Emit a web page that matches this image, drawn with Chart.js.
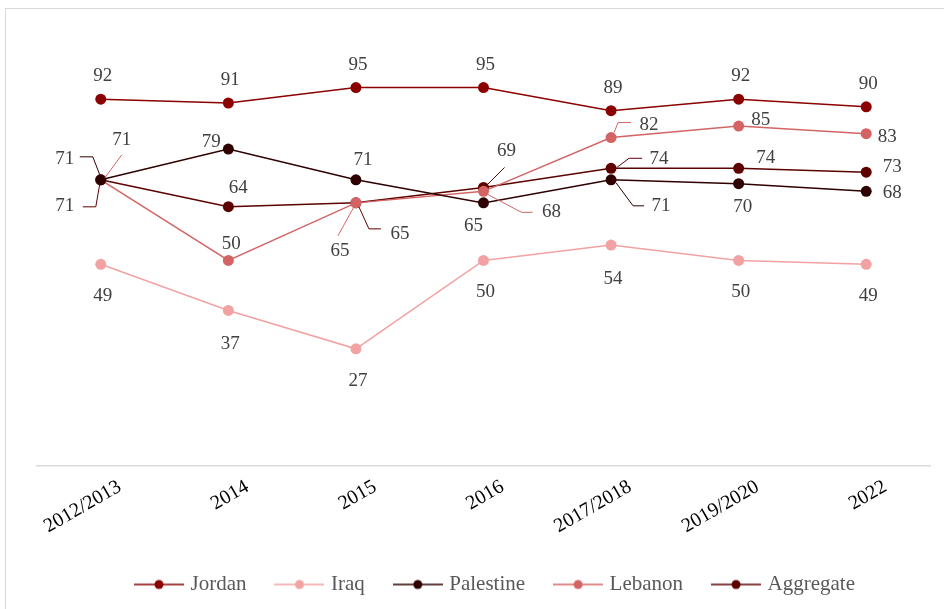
<!DOCTYPE html>
<html>
<head>
<meta charset="utf-8">
<script src="https://cdn.jsdelivr.net/npm/chart.js@4"></script>
<style>
  html, body { margin: 0; padding: 0; background: #fff; }
  #wrap { position: relative; width: 944px; height: 609px; overflow: hidden; }
  #frame { position: absolute; left: 5px; top: 8px; width: 960px; height: 620px; border: 1px solid #d9d9d9; }
  #c { position: absolute; left: 0; top: 0; }
</style>
</head>
<body>
<div id="wrap">
  <div id="frame"></div>
  <canvas id="c" width="944" height="609"></canvas>
</div>
<script>
// data
var years = ['2012/2013', '2014', '2015', '2016', '2017/2018', '2019/2020', '2022'];
var jordan    = [92, 91, 95, 95, 89, 92, 90];
var iraq      = [49, 37, 27, 50, 54, 50, 49];
var palestine = [71, 79, 71, 65, 71, 70, 68];
var lebanon   = [71, 50, 65, 68, 82, 85, 83];
var aggregate = [71, 64, 65, 69, 74, 74, 73];

var colors = ['#8b0000', '#f2a2a2', '#2e0000', '#d46464', '#5c0000'];
var names = ['Jordan', 'Iraq', 'Palestine', 'Lebanon', 'Aggregate'];
var serif = '"Liberation Serif", "Times New Roman", serif';

// label placement: [dx, dy] of text centre from the point, optional leader line
var labelPos = [
  [[2,-23],[2,-23],[2,-23],[2,-23],[2,-23],[2,-23],[2,-23]],
  [[2,32],[2,34],[2,32],[2,32],[2,34],[2,32],[2,32]],
  [[-36,-21,[[-21,-23],[-8,-23],[-1,-5]]], [-17,-7], [7,-20], [-10,23],
   [50,26,[[5,3],[22,26],[33,26]]], [4,23], [26,2]],
  [[21,-40,[[4,-2],[21,-25]]], [3,-16], [-16,48,[[-2,4],[-18,33]]],
   [68,21,[[4,3],[38,21],[49,21]]], [38,-13,[[3,-5],[7,-15],[20,-15]]], [22,-6], [21,3]],
  [[-36,26,[[-18,27],[-5,27],[-1,4]]], [10,-19], [44,31,[[3,4],[13,26],[25,26]]],
   [23,-36,[[4,-3],[21,-20]]], [48,-9,[[6,-1],[18,-10],[31,-10]]], [27,-10], [26,-5]]
];

function makeMarker(color) {
  var cv = document.createElement('canvas');
  cv.width = 50; cv.height = 12;
  var g = cv.getContext('2d');
  g.strokeStyle = color; g.lineWidth = 1.5;
  g.beginPath(); g.moveTo(0, 6); g.lineTo(50, 6); g.stroke();
  g.fillStyle = color;
  g.beginPath(); g.arc(25, 6, 4.5, 0, Math.PI * 2); g.fill();
  return cv;
}
var markers = colors.map(makeMarker);

var dataLabels = {
  id: 'dataLabels',
  beforeDraw: function (chart) {
    // legend sits a little right of centre in the original
    var lg = chart.legend;
    lg.left = 37 + 13;
    lg.right = 930 + 13;
  },
  afterDatasetsDraw: function (chart) {
    var ctx = chart.ctx;
    ctx.save();
    ctx.font = '19px ' + serif;
    ctx.textAlign = 'center';
    ctx.textBaseline = 'middle';
    chart.data.datasets.forEach(function (ds, di) {
      var meta = chart.getDatasetMeta(di);
      meta.data.forEach(function (pt, i) {
        var p = labelPos[di][i];
        if (p[2]) {
          ctx.strokeStyle = colors[di];
          ctx.lineWidth = 1;
          ctx.beginPath();
          p[2].forEach(function (q, k) {
            if (k === 0) ctx.moveTo(pt.x + q[0], pt.y + q[1]);
            else ctx.lineTo(pt.x + q[0], pt.y + q[1]);
          });
          ctx.stroke();
        }
        ctx.fillStyle = '#404040';
        ctx.fillText(ds.data[i], pt.x + p[0], pt.y + p[1]);
      });
    });
    ctx.restore();
  }
};

var seriesData = [jordan, iraq, palestine, lebanon, aggregate];

new Chart(document.getElementById('c'), {
  type: 'line',
  data: {
    labels: years,
    datasets: seriesData.map(function (d, i) {
      return {
        label: names[i],
        data: d,
        borderColor: colors[i],
        backgroundColor: colors[i],
        borderWidth: 1.5,
        pointRadius: 5.5,
        pointBorderWidth: 0,
        pointBackgroundColor: colors[i],
        tension: 0
      };
    })
  },
  options: {
    responsive: false,
    animation: false,
    layout: { padding: { top: 30, left: 37, right: 14, bottom: 4 } },
    scales: {
      x: {
        offset: true,
        grid: { display: false, drawTicks: false },
        border: { display: true, color: '#d9d9d9', width: 1.5 },
        ticks: {
          minRotation: 30, maxRotation: 30,
          padding: 9, labelOffset: 19,
          color: '#000',
          font: { family: serif, size: 20 }
        },
        afterFit: function (s) { s.height = 76; s.paddingLeft = 0; s.paddingRight = 0; }
      },
      y: {
        display: false,
        min: -3.5, max: 110
      }
    },
    plugins: {
      legend: {
        position: 'bottom',
        labels: {
          usePointStyle: true,
          pointStyleWidth: 42,
          padding: 32,
          color: '#595959',
          font: { family: serif, size: 21 },
          generateLabels: function (chart) {
            var items = Chart.defaults.plugins.legend.labels.generateLabels(chart);
            items.forEach(function (it, i) { it.pointStyle = markers[i]; });
            return items;
          }
        }
      },
      tooltip: { enabled: false }
    }
  },
  plugins: [dataLabels]
});
</script>
</body>
</html>
